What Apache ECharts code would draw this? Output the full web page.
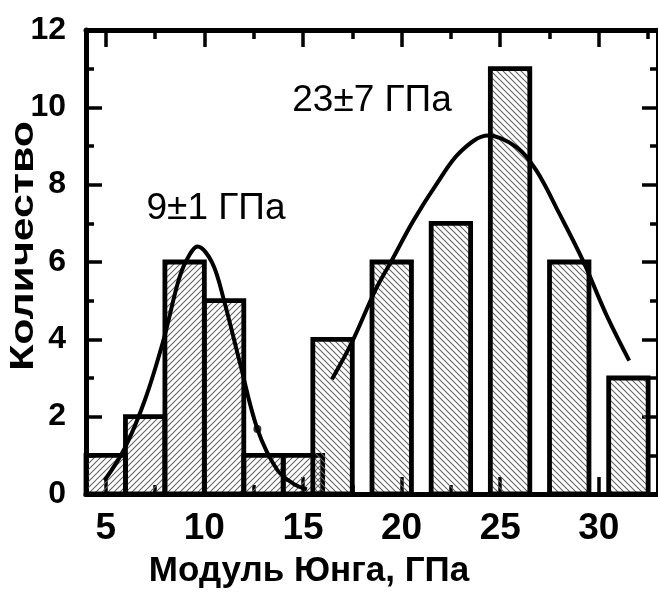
<!DOCTYPE html>
<html>
<head>
<meta charset="utf-8">
<script src="https://cdn.jsdelivr.net/npm/echarts@6/dist/echarts.min.js"></script>
<style>
  html, body { margin: 0; padding: 0; background: #fff; }
  #chart { width: 658px; height: 594px; }
</style>
</head>
<body>
<div id="chart"></div>
<script>
// Histogram of Young's modulus values with two Gaussian fits
const binWidth = 2;
const softCenters = [5, 7, 9, 11, 13, 15];
const softCounts = [1, 2, 6, 5, 1, 1];
const stiffCenters = [16.5, 19.5, 22.5, 25.5, 28.5, 31.5];
const stiffCounts = [4, 6, 7, 11, 6, 3];

// Fitted curves, sampled along the drawn line
const softFitX = [4.94, 5.95, 7.0, 7.94, 8.65, 9.07, 9.66, 10.4, 11.0, 11.8, 12.69, 13.7, 14.5, 15.2];
const softFitY = [0.35, 1.17, 2.45, 4.0, 5.45, 6.02, 6.4, 5.98, 5.0, 3.4, 1.68, 0.62, 0.27, 0.12];
const stiffFitX = [16.47, 17.48, 18.66, 19.5, 20.6, 21.78, 22.96, 24.39, 25.82, 26.83, 28.0, 29.19, 30.36, 31.54];
const stiffFitY = [2.97, 3.92, 5.26, 6.04, 7.07, 8.02, 8.84, 9.27, 8.97, 8.37, 7.25, 6.04, 4.66, 3.45];
const fitDot = [12.69, 1.68];

const xMajorTicks = [5, 10, 15, 20, 25, 30];
const xMinorTicks = [7.5, 12.5, 17.5, 22.5, 27.5, 32.5];
const xMin = 4, xMax = 33;
const yMin = 0, yMax = 12;

const xTitle = 'Модуль Юнга, ГПа';
const yTitle = 'Количество';
const softLabel = '9±1 ГПа';
const stiffLabel = '23±7 ГПа';

function hatch(forward) {
  const s = 6;
  const c = document.createElement('canvas');
  c.width = s; c.height = s;
  const g = c.getContext('2d');
  g.strokeStyle = '#666';
  g.lineWidth = 1.1;
  g.beginPath();
  if (forward) {
    g.moveTo(-1, s + 1); g.lineTo(s + 1, -1);
    g.moveTo(-1, 1); g.lineTo(1, -1);
    g.moveTo(s - 1, s + 1); g.lineTo(s + 1, s - 1);
  } else {
    g.moveTo(-1, -1); g.lineTo(s + 1, s + 1);
    g.moveTo(s - 1, -1); g.lineTo(s + 1, 1);
    g.moveTo(-1, s - 1); g.lineTo(1, s + 1);
  }
  g.stroke();
  return { image: c, repeat: 'repeat' };
}

function binRenderer(pattern) {
  return function (params, api) {
    const c = api.value(0), n = api.value(1);
    const p0 = api.coord([c - binWidth / 2, n]);
    const p1 = api.coord([c + binWidth / 2, 0]);
    return {
      type: 'rect',
      shape: { x: p0[0], y: p0[1], width: p1[0] - p0[0], height: p1[1] - p0[1] },
      style: { fill: pattern, stroke: '#000', lineWidth: 4.8 }
    };
  };
}

const zip = (a, b) => a.map((v, i) => [v, b[i]]);
const FONT = '"Liberation Sans", Arial, sans-serif';

function xAxisDef(position, ticks, len, showLine, showLabel) {
  return {
    type: 'value', position, min: xMin, max: xMax,
    axisLine: { show: showLine, onZero: false, lineStyle: { color: '#000', width: 5 } },
    axisTick: { show: true, inside: true, customValues: ticks, length: len, lineStyle: { color: '#000', width: 3.5 } },
    axisLabel: showLabel ? { show: true, customValues: ticks, color: '#000', fontFamily: FONT, fontWeight: 'bold', fontSize: 37, margin: 16 } : { show: false },
    splitLine: { show: false }
  };
}

function yAxisDef(position, showLabel) {
  return {
    type: 'value', position, min: yMin, max: yMax, interval: 2,
    axisLine: { show: true, onZero: false, lineStyle: { color: '#000', width: 5 } },
    axisTick: { show: true, inside: true, length: 16, lineStyle: { color: '#000', width: 3.5 } },
    minorTick: { show: true, splitNumber: 2, length: 8, lineStyle: { color: '#000', width: 3.5 } },
    axisLabel: showLabel ? { show: true, color: '#000', fontFamily: FONT, fontWeight: 'bold', fontSize: 32, margin: 20 } : { show: false },
    splitLine: { show: false }, minorSplitLine: { show: false }
  };
}

const chart = echarts.init(document.getElementById('chart'), null, { renderer: 'canvas' });
chart.setOption({
  animation: false,
  backgroundColor: '#fff',
  grid: { left: 86, right: -4, top: 30, bottom: 100, containLabel: false },
  xAxis: [
    xAxisDef('bottom', xMajorTicks, 17, true, true),
    xAxisDef('bottom', xMinorTicks, 9, false, false),
    xAxisDef('top', xMajorTicks, 17, true, false),
    xAxisDef('top', xMinorTicks, 9, false, false)
  ],
  yAxis: [yAxisDef('left', true), yAxisDef('right', false)],
  graphic: [
    { type: 'text', x: 309, y: 571,
      style: { text: xTitle, fill: '#000', font: 'bold 35px ' + FONT, align: 'center', verticalAlign: 'middle' } },
    { type: 'text', x: 24, y: 246, rotation: Math.PI / 2, scaleX: 1.26,
      style: { text: yTitle, fill: '#000', font: 'bold 34px ' + FONT, align: 'center', verticalAlign: 'middle' } },
    { type: 'text', x: 216, y: 209,
      style: { text: softLabel, fill: '#000', font: '37px ' + FONT, align: 'center', verticalAlign: 'middle' } },
    { type: 'text', x: 372, y: 101,
      style: { text: stiffLabel, fill: '#000', font: '37px ' + FONT, align: 'center', verticalAlign: 'middle' } }
  ],
  series: [
    { type: 'custom', xAxisIndex: 0, yAxisIndex: 0, renderItem: binRenderer(hatch(true)),
      data: zip(softCenters, softCounts), z: 2 },
    { type: 'custom', xAxisIndex: 0, yAxisIndex: 0, renderItem: binRenderer(hatch(false)),
      data: zip(stiffCenters, stiffCounts), z: 2 },
    { type: 'line', xAxisIndex: 0, yAxisIndex: 0, data: zip(softFitX, softFitY), smooth: 0.35,
      symbol: 'none', lineStyle: { color: '#000', width: 4 }, z: 3 },
    { type: 'line', xAxisIndex: 0, yAxisIndex: 0, data: zip(stiffFitX, stiffFitY), smooth: 0.35,
      symbol: 'none', lineStyle: { color: '#000', width: 4 }, z: 3 },
    { type: 'scatter', xAxisIndex: 0, yAxisIndex: 0, data: [fitDot], symbolSize: 8,
      itemStyle: { color: '#000' }, z: 4 }
  ]
});
</script>
</body>
</html>
